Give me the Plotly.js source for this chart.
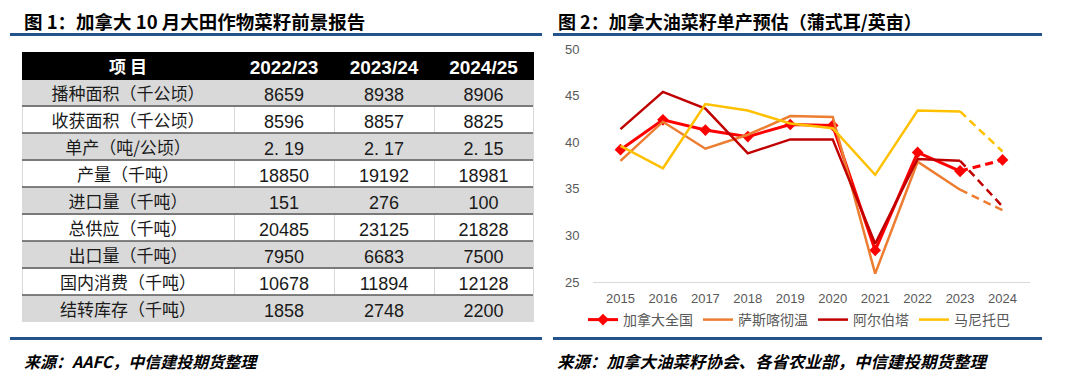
<!DOCTYPE html>
<html><head><meta charset="utf-8">
<script src="https://cdn.plot.ly/plotly-3.0.1.min.js"></script>
<style>html,body{margin:0;padding:0;background:#fff;}#chart{width:1080px;height:388px;}</style>
</head><body><div id="chart"></div>
<script>
// ---- Table data (图1) ----
const tableHeaders = ['项 目', '2022/23', '2023/24', '2024/25'];
const tableItems = ['播种面积（千公顷）', '收获面积（千公顷）', '单产（吨/公顷）', '产量（千吨）', '进口量（千吨）', '总供应（千吨）', '出口量（千吨）', '国内消费（千吨）', '结转库存（千吨）'];
const col2022 = ['8659', '8596', '2. 19', '18850', '151', '20485', '7950', '10678', '1858'];
const col2023 = ['8938', '8857', '2. 17', '19192', '276', '23125', '6683', '11894', '2748'];
const col2024 = ['8906', '8825', '2. 15', '18981', '100', '21828', '7500', '12128', '2200'];

// ---- Line chart data (图2) ----
const years = ['2015', '2016', '2017', '2018', '2019', '2020', '2021', '2022', '2023', '2024'];
const seriesNames = ['加拿大全国', '萨斯喀彻温', '阿尔伯塔', '马尼托巴'];
const canada   = [39.2, 42.4, 41.3, 40.6, 41.9, 41.8, 28.4, 38.9, 36.9, 38.1];
const sask     = [38.0, 42.2, 39.3, 40.8, 42.8, 42.7, 25.9, 37.9, 34.9, 32.7];
const alberta  = [41.4, 45.4, 43.6, 38.8, 40.3, 40.3, 29.1, 38.2, 38.0, 33.1];
const manitoba = [39.6, 37.2, 44.1, 43.4, 42.0, 41.5, 36.5, 43.4, 43.3, 39.0];

const W = 1080, H = 388;
const px = v => v / W, py = v => 1 - v / H;

const seriesVals = [canada, sask, alberta, manitoba];
const seriesColors = ['#FF0000', '#ED7D31', '#C00000', '#FFC000'];
const nSolid = years.length - 1; // last segment (forecast) dashed

const traces = [];
// table
const nBody = tableItems.length;
const rowFill = tableItems.map((_, i) => i % 2 === 0 ? '#d9d9d9' : '#ffffff');
traces.push({
  type: 'table',
  domain: {x: [px(22), px(533)], y: [py(322), py(52)]},
  columnwidth: [212, 100, 100, 99],
  header: {
    values: tableHeaders,
    height: 27,
    align: 'center',
    fill: {color: '#000000'},
    line: {color: '#000000', width: 1},
    font: {family: ['Noto Sans CJK SC', 'Liberation Sans', 'Liberation Sans', 'Liberation Sans'],
           size: [17, 19, 19, 19], color: '#ffffff', weight: 'bold'}
  },
  cells: {
    values: [tableItems, col2022, col2023, col2024],
    height: 27,
    align: 'center',
    fill: {color: [rowFill, rowFill, rowFill, rowFill]},
    line: {color: '#d9d9d9', width: 1},
    font: {family: ['Noto Sans CJK SC', 'Liberation Sans', 'Liberation Sans', 'Liberation Sans'],
           size: [17, 18, 18, 18], color: '#1a1a1a'}
  }
});

// solid lines
seriesVals.forEach((vals, i) => {
  const t = {
    type: 'scatter', mode: i === 0 ? 'lines+markers' : 'lines',
    name: seriesNames[i],
    x: years.slice(0, nSolid), y: vals.slice(0, nSolid),
    line: {color: seriesColors[i], width: i === 0 ? 3 : 2.5},
    xaxis: 'x', yaxis: 'y', hoverinfo: 'x+y'
  };
  if (i === 0) t.marker = {symbol: 'diamond', size: 9, color: seriesColors[i]};
  traces.push(t);
});
// forecast dashed segments
seriesVals.forEach((vals, i) => {
  const t = {
    type: 'scatter', mode: i === 0 ? 'lines+markers' : 'lines',
    name: seriesNames[i], showlegend: false,
    x: years.slice(nSolid - 1), y: vals.slice(nSolid - 1),
    line: {color: seriesColors[i], width: i === 0 ? 3 : 2.5, dash: '8px,5px'},
    xaxis: 'x', yaxis: 'y', hoverinfo: 'x+y'
  };
  if (i === 0) t.marker = {symbol: 'diamond', size: 9, color: seriesColors[i]};
  traces.push(t);
});

const blue = '#24528a';
const shapes = [
  {type: 'line', xref: 'paper', yref: 'paper', x0: px(10), x1: px(542), y0: py(34.5), y1: py(34.5), line: {color: blue, width: 3}},
  {type: 'line', xref: 'paper', yref: 'paper', x0: px(553), x1: px(1042), y0: py(34.5), y1: py(34.5), line: {color: blue, width: 3}},
  {type: 'line', xref: 'paper', yref: 'paper', x0: px(10), x1: px(542), y0: py(338.5), y1: py(338.5), line: {color: blue, width: 3}},
  {type: 'line', xref: 'paper', yref: 'paper', x0: px(553), x1: px(1042), y0: py(338.5), y1: py(338.5), line: {color: blue, width: 3}}
];
// table row separators (between body rows)
for (let k = 1; k < nBody; k++) {
  const yy = 52 + 27 + 27 * k;
  shapes.push({type: 'line', xref: 'paper', yref: 'paper', x0: px(22), x1: px(533), y0: py(yy), y1: py(yy), line: {color: '#5a5a5a', width: 1.5}});
}

const cjk = 'Noto Sans CJK SC';
const annotations = [
  {text: '<b>图 1：加拿大 10 月大田作物菜籽前景报告</b>', x: px(22), y: py(21), xref: 'paper', yref: 'paper', xanchor: 'left', yanchor: 'middle', showarrow: false, font: {family: cjk, size: 18.5, color: '#000'}},
  {text: '<b>图 2：加拿大油菜籽单产预估（蒲式耳/英亩）</b>', x: px(556), y: py(21), xref: 'paper', yref: 'paper', xanchor: 'left', yanchor: 'middle', showarrow: false, font: {family: cjk, size: 18, color: '#000'}},
  {text: '<b><i>来源：AAFC，中信建投期货整理</i></b>', x: px(22), y: py(361), xref: 'paper', yref: 'paper', xanchor: 'left', yanchor: 'middle', showarrow: false, font: {family: cjk, size: 16, color: '#000'}},
  {text: '<b><i>来源：加拿大油菜籽协会、各省农业部，中信建投期货整理</i></b>', x: px(555), y: py(361), xref: 'paper', yref: 'paper', xanchor: 'left', yanchor: 'middle', showarrow: false, font: {family: cjk, size: 16.5, color: '#000'}}
];

const tickFont = {family: 'Liberation Sans, Arial, sans-serif', size: 13, color: '#595959'};
const layout = {
  width: W, height: H,
  margin: {l: 0, r: 0, t: 0, b: 0},
  paper_bgcolor: '#ffffff', plot_bgcolor: '#ffffff',
  showlegend: true,
  legend: {orientation: 'h', x: px(583), y: py(320), xanchor: 'left', yanchor: 'middle',
           font: {family: cjk, size: 14, color: '#595959'}, itemwidth: 30, bgcolor: 'rgba(0,0,0,0)'},
  xaxis: {domain: [px(593), px(1030)], type: 'category', showline: true, linecolor: '#d9d9d9', linewidth: 1,
          showgrid: false, zeroline: false, ticks: 'outside', ticklen: 4, tickcolor: 'rgba(0,0,0,0)', tickfont: tickFont, fixedrange: true},
  yaxis: {domain: [py(282), py(49)], range: [25, 50], dtick: 5, showgrid: false, zeroline: false, showline: false,
          ticks: 'outside', ticklen: 10, tickcolor: 'rgba(0,0,0,0)', tickfont: tickFont, fixedrange: true},
  shapes: shapes,
  annotations: annotations
};

Plotly.newPlot('chart', traces, layout, {displayModeBar: false, staticPlot: true});
</script>
</body></html>
